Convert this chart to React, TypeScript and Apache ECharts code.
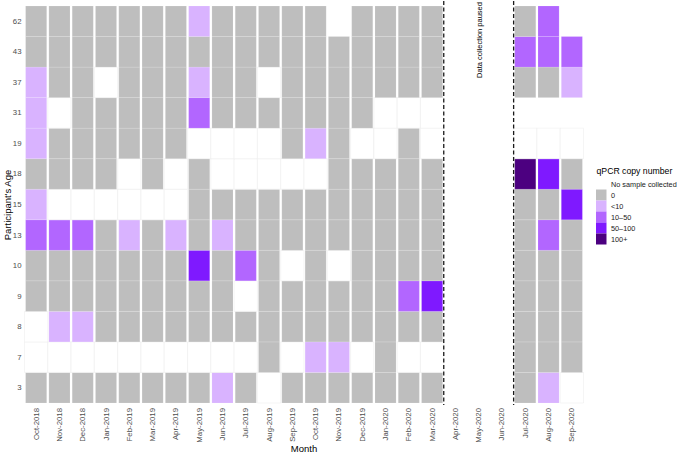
import React, { useEffect, useRef } from "react";
import * as echarts from "echarts";

const months = [
  "Oct-2018", "Nov-2018", "Dec-2018", "Jan-2019", "Feb-2019", "Mar-2019",
  "Apr-2019", "May-2019", "Jun-2019", "Jul-2019", "Aug-2019", "Sep-2019",
  "Oct-2019", "Nov-2019", "Dec-2019", "Jan-2020", "Feb-2020", "Mar-2020",
  "Apr-2020", "May-2020", "Jun-2020", "Jul-2020", "Aug-2020", "Sep-2020",
];
const ages = ["3", "7", "8", "9", "10", "13", "15", "18", "19", "31", "37", "43", "62"];

// level codes: -1 no sample collected, 0 = "0", 1 = "<10", 2 = "10–50", 3 = "50–100", 4 = "100+", null = not shown
const levelLabels = ["No sample collected", "0", "<10", "10–50", "50–100", "100+"];
const levelColors = ["#FFFFFF", "#BEBEBE", "#D9B3FF", "#B266FF", "#7F19FF", "#4C0080"];

const p62 = [0, 0, 0, 0, 0, 0, 0, 1, 0, 0, 0, 0, 0, null, 0, 0, 0, 0, null, null, null, 0, 2, null];
const p43 = [0, 0, 0, 0, 0, 0, 0, 0, 0, 0, 0, 0, 0, 0, 0, 0, 0, 0, null, null, null, 2, 2, 2];
const p37 = [1, 0, 0, -1, 0, 0, 0, 1, 0, 0, -1, 0, 0, 0, 0, 0, 0, 0, null, null, null, 0, 0, 1];
const p31 = [1, -1, 0, 0, 0, 0, 0, 2, 0, 0, 0, 0, 0, 0, 0, -1, -1, -1, null, null, null, null, null, null];
const p19 = [1, 0, 0, 0, 0, 0, 0, -1, -1, -1, -1, 0, 1, 0, -1, -1, 0, -1, null, null, null, -1, -1, -1];
const p18 = [0, 0, 0, 0, -1, 0, -1, 0, -1, -1, -1, -1, -1, 0, 0, 0, 0, 0, null, null, null, 4, 3, 0];
const p15 = [1, -1, -1, -1, -1, -1, -1, 0, 0, 0, 0, 0, 0, 0, 0, 0, 0, 0, null, null, null, 0, 0, 3];
const p13 = [2, 2, 2, 0, 1, 0, 1, 0, 1, 0, 0, 0, 0, 0, 0, 0, 0, 0, null, null, null, 0, 2, 0];
const p10 = [0, 0, 0, 0, 0, 0, 0, 3, 0, 2, 0, -1, 0, -1, 0, 0, 0, 0, null, null, null, 0, 0, 0];
const p9 = [0, 0, 0, 0, 0, 0, 0, 0, 0, -1, 0, 0, 0, 0, 0, 0, 2, 3, null, null, null, 0, 0, 0];
const p8 = [-1, 1, 1, 0, 0, 0, 0, 0, 0, 0, 0, 0, 0, 0, 0, 0, 0, 0, null, null, null, 0, 0, 0];
const p7 = [-1, -1, -1, -1, -1, -1, -1, -1, -1, -1, 0, -1, 1, 1, -1, 0, -1, -1, null, null, null, 0, 0, 0];
const p3 = [0, 0, 0, 0, 0, 0, 0, 0, 1, 0, -1, 0, 0, 0, 0, 0, 0, 0, null, null, null, 0, 1, -1];

const rowsByAge: Record<string, (number | null)[]> = {
  "3": p3, "7": p7, "8": p8, "9": p9, "10": p10, "13": p13, "15": p15,
  "18": p18, "19": p19, "31": p31, "37": p37, "43": p43, "62": p62,
};

const pauseStart = "Apr-2020";
const pauseEnd = "Jul-2020";
const pauseText = "Data collection paused";

const FONT = "'Liberation Sans', Arial, Helvetica, sans-serif";

export default function App() {
  const ref = useRef<HTMLDivElement>(null);

  useEffect(() => {
    if (!ref.current) return;
    const chart = echarts.init(ref.current, undefined, { renderer: "svg" });

    const tiles: number[][] = [];
    ages.forEach((age, yi) => {
      rowsByAge[age].forEach((v, xi) => {
        if (v !== null) tiles.push([xi, yi, v]);
      });
    });

    const bounds = [months.indexOf(pauseStart), months.indexOf(pauseEnd)].map((b) => [b, 0]);

    const legendTop = 171;
    const legendLeft = 596;
    const legendChildren: any[] = [
      {
        type: "text",
        x: legendLeft + 0.5,
        y: legendTop,
        style: { text: "qPCR copy number", fill: "#000", font: `8.7px ${FONT}`, verticalAlign: "middle" },
      },
    ];
    levelLabels.forEach((lab, i) => {
      const cy = legendTop + 13 + 11 * i;
      legendChildren.push({
        type: "rect",
        shape: { x: legendLeft, y: cy - 5.5, width: 10.5, height: 11 },
        style: { fill: levelColors[i] },
      });
      legendChildren.push({
        type: "text",
        x: legendLeft + 15,
        y: cy,
        style: { text: lab, fill: "#1a1a1a", font: `7.3px ${FONT}`, verticalAlign: "middle" },
      });
    });

    chart.setOption({
      animation: false,
      backgroundColor: "#ffffff",
      textStyle: { fontFamily: FONT },
      grid: { left: 24.5, top: 6, width: 559, height: 397 },
      xAxis: [
        {
          type: "category",
          data: months,
          axisLine: { show: false },
          axisTick: { show: false },
          splitLine: { show: false },
          axisLabel: { rotate: 90, fontSize: 7.8, color: "#4d4d4d", margin: 5, interval: 0, fontFamily: FONT },
        },
        { type: "value", min: 0, max: months.length, show: false },
      ],
      yAxis: {
        type: "category",
        data: ages,
        axisLine: { show: false },
        axisTick: { show: false },
        splitLine: { show: false },
        axisLabel: { fontSize: 7.8, color: "#4d4d4d", margin: 3, interval: 0, fontFamily: FONT },
      },
      series: [
        {
          type: "custom",
          xAxisIndex: 0,
          yAxisIndex: 0,
          data: tiles,
          renderItem: (params: any, api: any) => {
            const xi = api.value(0);
            const yi = api.value(1);
            const code = api.value(2);
            const c = api.coord([xi, yi]);
            const s = api.size([1, 1]);
            const w = s[0];
            const h = s[1];
            if (code === -1) {
              return {
                type: "rect",
                shape: { x: c[0] - w / 2, y: c[1] - h / 2, width: w, height: h },
                style: { fill: "#ffffff", stroke: "#efefef", lineWidth: 0.6 },
              };
            }
            return {
              type: "rect",
              shape: { x: c[0] - w / 2 + 1.1, y: c[1] - h / 2, width: w - 2.2, height: h },
              style: { fill: levelColors[code + 1], stroke: "rgba(255,255,255,0.25)", lineWidth: 0.5 },
            };
          },
        },
        {
          type: "custom",
          xAxisIndex: 1,
          yAxisIndex: 0,
          data: bounds,
          renderItem: (params: any, api: any) => {
            const x = api.coord([api.value(0), 0])[0];
            const cs = params.coordSys;
            return {
              type: "line",
              shape: { x1: x, y1: cs.y - 5, x2: x, y2: cs.y + cs.height + 2 },
              style: { stroke: "#1a1a1a", lineWidth: 1.3, lineDash: [4, 2.5] },
            };
          },
        },
      ],
      graphic: [
        {
          type: "text",
          x: 479,
          y: 40,
          rotation: Math.PI / 2,
          style: { text: pauseText, font: `7.5px ${FONT}`, fill: "#000", align: "center", verticalAlign: "middle" },
        },
        {
          type: "text",
          x: 304,
          y: 448,
          style: { text: "Month", font: `9.5px ${FONT}`, fill: "#000", align: "center", verticalAlign: "middle" },
        },
        {
          type: "text",
          x: 7,
          y: 205,
          rotation: Math.PI / 2,
          style: { text: "Participant's Age", font: `9.5px ${FONT}`, fill: "#000", align: "center", verticalAlign: "middle" },
        },
        { type: "group", children: legendChildren },
      ],
    });

    return () => chart.dispose();
  }, []);

  return <div ref={ref} style={{ position: "fixed", left: 0, top: 0, width: 680, height: 454 }} />;
}
